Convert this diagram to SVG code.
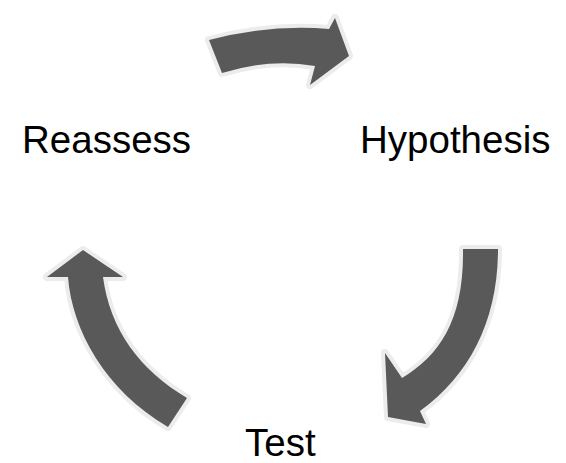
<svg xmlns="http://www.w3.org/2000/svg" width="566" height="463" viewBox="0 0 566 463">
<style>
.arr{fill:#595959;stroke:#ececec;stroke-width:8;stroke-linejoin:round;paint-order:stroke}
.lbl{font-family:"Liberation Sans",Arial,sans-serif;font-size:38.5px;fill:#000}
</style>
<rect width="566" height="463" fill="#fff"/>
<g id="connectors">
<path id="arrow-top" class="arr" d="M209,40 Q270,24 329,29 L335,18 L349,56 L310,85 L315,66 Q270,58 222,73 Z"/>
<path id="arrow-right" class="arr" d="M463,249 L498,249 C498,320 470,375 420,411 L426,424 L388,417 L385,353 L402,378 C440,355 464,320 463,249 Z"/>
<path id="arrow-left" class="arr" d="M187,398 C140,370 110,330 103,277 L123,277 L83,250 L47,277 L68,277 C72,330 105,390 168,427 Z"/>
</g>
<g id="node-reassess"><text class="lbl" x="22" y="153">Reassess</text></g>
<g id="node-hypothesis"><text class="lbl" x="360" y="153">Hypothesis</text></g>
<g id="node-test"><text class="lbl" x="245" y="456">Test</text></g>
</svg>
